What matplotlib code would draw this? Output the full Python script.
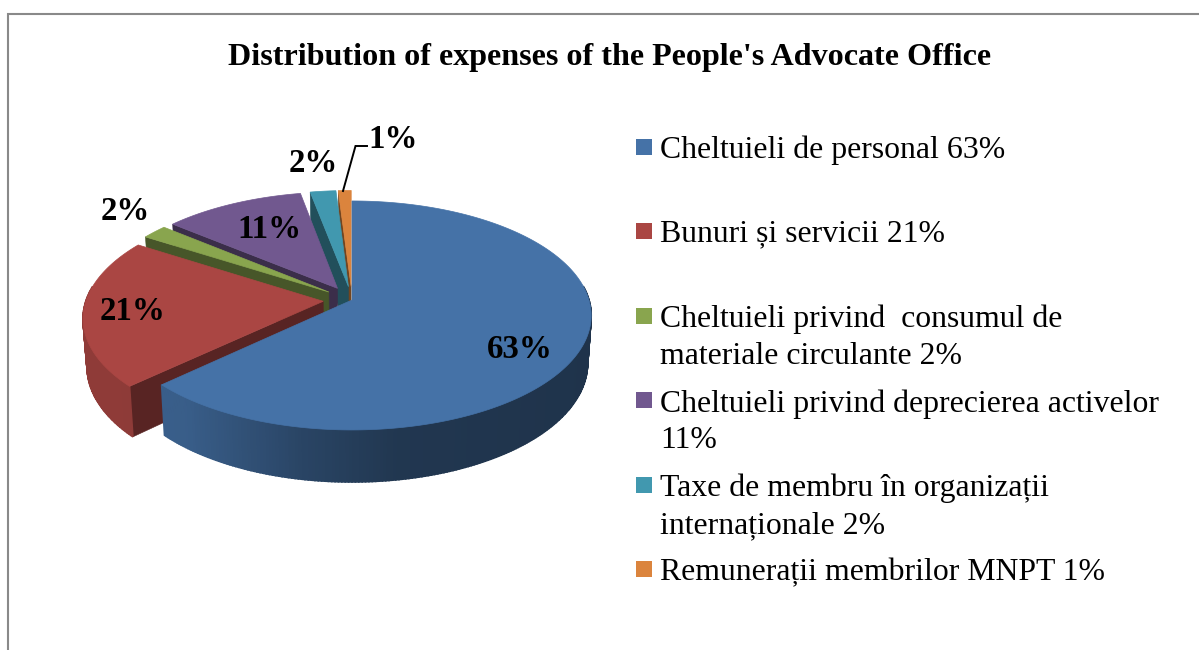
import numpy as np
import matplotlib
matplotlib.use("Agg")
import matplotlib.pyplot as plt

# ---- data ----
title = "Distribution of expenses of the People's Advocate Office"
values = [63, 21, 2, 11, 2, 1]
value_labels = ["63%", "21%", "2%", "11%", "2%", "1%"]
legend_lines = [
    ["Cheltuieli de personal 63%"],
    ["Bunuri și servicii 21%"],
    ["Cheltuieli privind  consumul de", "materiale circulante 2%"],
    ["Cheltuieli privind deprecierea activelor", "11%"],
    ["Taxe de membru în organizații", "internaționale 2%"],
    ["Remunerații membrilor MNPT 1%"],
]
colors = ["#4572A7", "#AA4643", "#89A54E", "#71588F", "#4198AF", "#DB843D"]
explode = [0.0, 0.122, 0.122, 0.122, 0.122, 0.122]

# ---- layout (pixels of the 1199x650 canvas) ----
CX, CY, RX, RY, K = 352, 300, 237, 112.4, 0.135
label_xy = [(520, 350), (133, 311), (125, 212), (269, 230), (313, 163), (393, 140)]
legend_baselines = [[158], [241], [327, 364], [412, 448], [496, 533], [580]]
legend_box_top = [139, 223, 308, 392, 477, 561]
SERIF = "Liberation Serif"

fig = plt.figure(figsize=(11.99, 6.5), dpi=100, facecolor="white")
ax = fig.add_axes([0, 0, 1, 1])
ax.set_xlim(0, 1199)
ax.set_ylim(650, 0)
ax.axis("off")

ax.plot([8.3, 8.3, 1199], [650, 14, 14], color="#898989", lw=1.5, zorder=1,
        solid_joinstyle="miter")


def project(u, v):
    s = 1 / (1 - K * v)
    return CX + RX * u * s, CY + RY * v * s


def lower(x, y, v):
    return CX + (x - CX) * 0.985, y + 47 + 5 * v


def shade(col, f):
    return tuple(c * f for c in matplotlib.colors.to_rgb(col))


wall_f = lambda u: np.interp(u, [-1, -0.7, -0.2, 0.2, 1], [0.84, 0.82, 0.60, 0.48, 0.45])

fracs = np.array(values) / sum(values)
edges = np.concatenate([[0], np.cumsum(fracs)]) * 2 * np.pi
z = 2

# painter's order: slices at the back first, the large front slice last
for i in range(len(values) - 1, -1, -1):
    t0, t1 = edges[i], edges[i + 1]
    mid = (t0 + t1) / 2
    ou, ov = explode[i] * np.sin(mid), -explode[i] * np.cos(mid)
    col = colors[i]
    ts = np.linspace(t0, t1, max(6, int((t1 - t0) * 80)))
    us, vs = ou + np.sin(ts), ov - np.cos(ts)
    ax_, ay_ = project(ou, ov)

    # cut face at the start side of the slice (seen on the left-hand slices)
    if i > 0:
        xo, yo = project(us[0], vs[0])
        xb, yb = lower(xo, yo, vs[0])
        axb, ayb = lower(ax_, ay_, ov)
        ax.fill([ax_, xo, xb, axb], [ay_, yo, yb, ayb], color=shade(col, 0.52),
                lw=0.4, zorder=z)
        z += 1

    # outer wall, in short shaded strips
    for j in range(len(ts) - 1):
        if vs[j] < -0.12 and vs[j + 1] < -0.12:
            continue
        x0, y0 = project(us[j], vs[j])
        x1, y1 = project(us[j + 1], vs[j + 1])
        xb0, yb0 = lower(x0, y0, vs[j])
        xb1, yb1 = lower(x1, y1, vs[j + 1])
        c = shade(col, float(wall_f((x0 - CX) / RX)))
        ax.fill([x0, x1, xb1, xb0], [y0, y1, yb1, yb0], color=c, lw=1.2, zorder=z)
    z += 1

    # top face
    xs, ys = project(us, vs)
    ax.fill(np.r_[ax_, xs], np.r_[ay_, ys], facecolor=col, edgecolor=col, lw=0.5, zorder=z)
    z += 1

# slice labels
for (x, y), t in zip(label_xy, value_labels):
    ax.text(x, y, t, family=SERIF, weight="bold", fontsize=23.7, ha="center",
            va="center", color="black", zorder=z)

# leader of the smallest slice
ax.plot([343, 355.5, 367], [191, 146, 146], color="black", lw=1.4, zorder=z,
        solid_joinstyle="miter")

ax.text(610, 58, title, family=SERIF, weight="bold", fontsize=23.1, ha="center",
        va="center", color="black", zorder=z)

# legend
for col, top, lines, bases in zip(colors, legend_box_top, legend_lines, legend_baselines):
    ax.fill([636, 652, 652, 636], [top, top, top + 16, top + 16], color=col, lw=0, zorder=z)
    for line, b in zip(lines, bases):
        ax.text(660, b, line, family=SERIF, fontsize=22.9, ha="left", va="baseline",
                color="black", zorder=z)

fig.savefig("out.png", dpi=100, facecolor="white")
